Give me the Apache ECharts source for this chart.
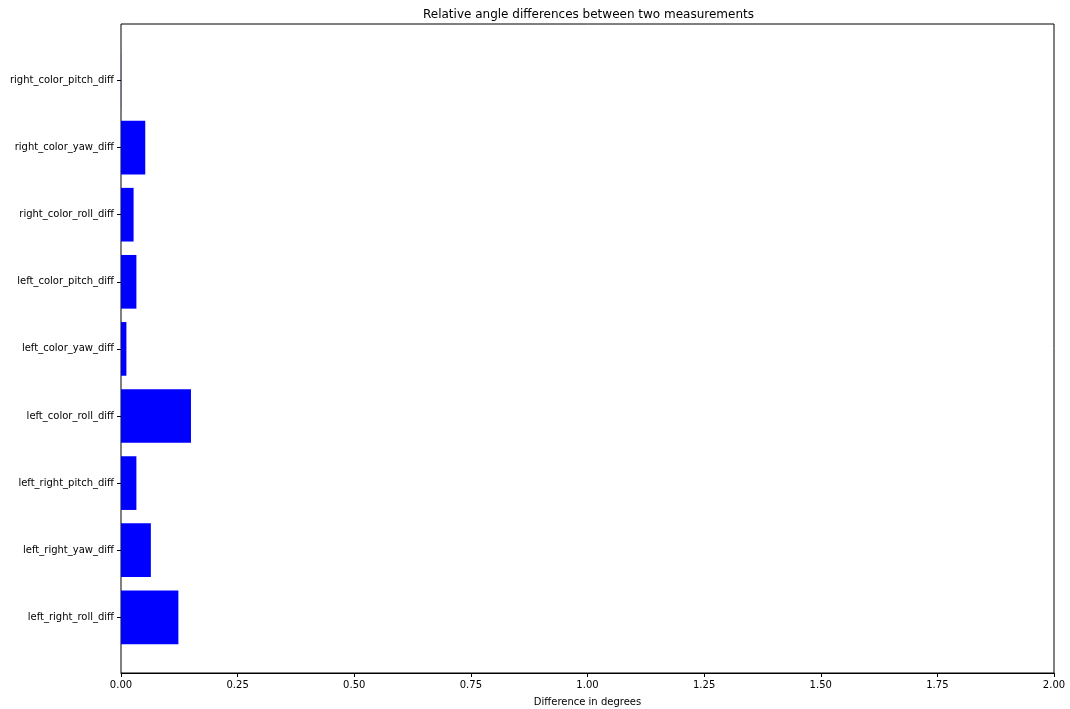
<!DOCTYPE html>
<html>
<head>
<meta charset="utf-8">
<script src="https://cdn.jsdelivr.net/npm/echarts@6/dist/echarts.min.js"></script>
<style>html,body{margin:0;padding:0;background:#fff}#c{width:1070px;height:709px}</style>
</head>
<body>
<div id="c"></div>
<script>
const categories = ['left_right_roll_diff','left_right_yaw_diff','left_right_pitch_diff','left_color_roll_diff','left_color_yaw_diff','left_color_pitch_diff','right_color_roll_diff','right_color_yaw_diff','right_color_pitch_diff'];
const values = [0.123, 0.064, 0.033, 0.150, 0.0116, 0.033, 0.027, 0.052, 0.0003];
const xTicks = [0, 0.25, 0.5, 0.75, 1.0, 1.25, 1.5, 1.75, 2.0];
const titleText = 'Relative angle differences between two measurements';
const xLabel = 'Difference in degrees';

const F = 'DejaVu Sans';
const chart = echarts.init(document.getElementById('c'));
const L = 121, R = 1070 - 1054, T = 24, H = 649;
const band = 67.1;
const innerTop = 80.5 - band / 2;
const innerH = band * categories.length;
chart.setOption({
  animation: false,
  title: { text: titleText, left: 418, top: 4,
    textStyle: { fontFamily: F, fontSize: 12, fontWeight: 'normal', color: '#000' } },
  grid: [
    { left: L, right: R, top: innerTop, height: innerH, outerBoundsMode: 'none', containLabel: false },
    { left: L, right: R, top: T, height: H, show: true, borderColor: '#000', borderWidth: 1, backgroundColor: 'transparent', outerBoundsMode: 'none', containLabel: false }
  ],
  xAxis: [
    { gridIndex: 0, type: 'value', min: 0, max: 2, show: false },
    { gridIndex: 1, type: 'value', min: 0, max: 2, interval: 0.25,
      name: xLabel, nameLocation: 'middle', nameGap: 24,
      nameTextStyle: { fontFamily: F, fontSize: 10, color: '#000' },
      axisLine: { show: true, lineStyle: { color: '#000', width: 1 } },
      axisTick: { show: true, length: 4, lineStyle: { color: '#000' } },
      axisLabel: { fontFamily: F, fontSize: 10, color: '#000', margin: 7,
        formatter: v => v.toFixed(2) },
      splitLine: { show: false } }
  ],
  yAxis: [
    { gridIndex: 0, type: 'category', data: categories, boundaryGap: true,
      axisLine: { show: false },
      axisTick: { show: true, alignWithLabel: true, length: 4, lineStyle: { color: '#000' } },
      axisLabel: { fontFamily: F, fontSize: 10, color: '#000', margin: 7 },
      splitLine: { show: false } },
    { gridIndex: 1, type: 'value', min: 0, max: 1, show: false }
  ],
  series: [
    { type: 'bar', xAxisIndex: 0, yAxisIndex: 0, data: values, barWidth: '80%',
      itemStyle: { color: '#0000ff' } }
  ]
});
</script>
</body>
</html>
